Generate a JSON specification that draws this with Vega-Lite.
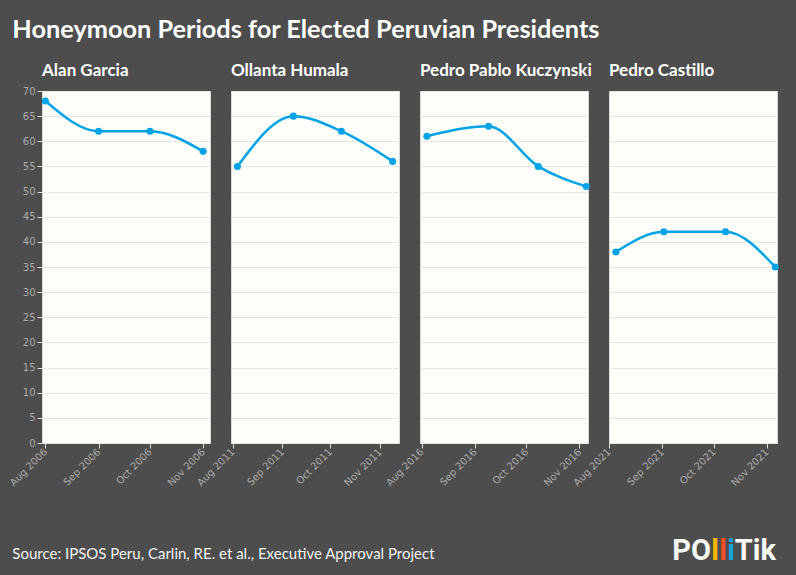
{
  "$schema": "https://vega.github.io/schema/vega-lite/v6.json",
  "background": "#4d4d4d",
  "padding": {"left": 7, "right": 19, "top": 17, "bottom": 11},
  "title": {
    "text": "Source: IPSOS Peru, Carlin, RE. et al., Executive Approval Project",
    "orient": "bottom",
    "anchor": "start",
    "baseline": "middle",
    "color": "#f2f2f2",
    "font": "Lato",
    "fontSize": 15,
    "fontWeight": "normal",
    "offset": -15,
    "dx": 5
  },
  "spacing": 48,
  "vconcat": [
    {
      "title": {
        "text": "Honeymoon Periods for Elected Peruvian Presidents",
        "anchor": "start",
        "color": "#ffffff",
        "font": "Lato",
        "fontSize": 25.3,
        "fontWeight": "bold",
        "offset": 19,
        "dx": 5
      },
      "data": {
        "values": [
          {"president": "Alan Garcia", "date": "2006-08-01", "approval": 68},
          {"president": "Alan Garcia", "date": "2006-09-01", "approval": 62},
          {"president": "Alan Garcia", "date": "2006-10-01", "approval": 62},
          {"president": "Alan Garcia", "date": "2006-11-01", "approval": 58},
          {"president": "Ollanta Humala", "date": "2011-08-04", "approval": 55},
          {"president": "Ollanta Humala", "date": "2011-09-08", "approval": 65},
          {"president": "Ollanta Humala", "date": "2011-10-08", "approval": 62},
          {"president": "Ollanta Humala", "date": "2011-11-09", "approval": 56},
          {"president": "Pedro Pablo Kuczynski", "date": "2016-08-04", "approval": 61},
          {"president": "Pedro Pablo Kuczynski", "date": "2016-09-09", "approval": 63},
          {"president": "Pedro Pablo Kuczynski", "date": "2016-10-08", "approval": 55},
          {"president": "Pedro Pablo Kuczynski", "date": "2016-11-05", "approval": 51},
          {"president": "Pedro Castillo", "date": "2021-08-05", "approval": 38},
          {"president": "Pedro Castillo", "date": "2021-09-02", "approval": 42},
          {"president": "Pedro Castillo", "date": "2021-10-08", "approval": 42},
          {"president": "Pedro Castillo", "date": "2021-11-06", "approval": 35}
        ]
      },
      "facet": {
        "column": {
          "field": "president",
          "type": "nominal",
          "sort": ["Alan Garcia", "Ollanta Humala", "Pedro Pablo Kuczynski", "Pedro Castillo"],
          "title": null,
          "header": {
            "labelOrient": "top",
            "labelAnchor": "start",
            "labelAlign": "left",
            "labelColor": "#ffffff",
            "labelFont": "Lato",
            "labelFontSize": 17,
            "labelFontWeight": "bold",
            "labelPadding": 11
          }
        }
      },
      "spacing": 21,
      "bounds": "flush",
      "resolve": {"scale": {"x": "independent"}},
      "spec": {
        "width": 168,
        "height": 352,
        "view": {"stroke": "#d9d9d9", "fill": "#fdfefa"},
        "encoding": {
          "x": {
            "field": "date",
            "type": "temporal",
            "title": null,
            "scale": {"type": "utc", "nice": "week"},
            "axis": {
              "format": "%b %Y",
              "labelAngle": -45,
              "labelAlign": "right",
              "labelBaseline": "middle",
              "tickCount": "month",
              "grid": false,
              "domain": false
            }
          },
          "y": {
            "field": "approval",
            "type": "quantitative",
            "title": null,
            "scale": {"domain": [0, 70], "nice": false},
            "axis": {
              "values": [0, 5, 10, 15, 20, 25, 30, 35, 40, 45, 50, 55, 60, 65, 70],
              "grid": true,
              "domain": false
            }
          }
        },
        "layer": [
          {
            "mark": {"type": "line", "interpolate": "monotone", "color": "#00a3e6", "strokeWidth": 2.5}
          },
          {
            "mark": {"type": "point", "filled": true, "color": "#00a3e6", "size": 50, "opacity": 1}
          }
        ]
      }
    },
    {
      "width": 734,
      "height": 30,
      "view": {"stroke": null, "fill": null},
      "data": {"values": [{"logo": "POlliTik"}]},
      "encoding": {
        "x": {"datum": 1, "type": "quantitative", "scale": {"domain": [0, 1]}, "axis": null}
      },
      "layer": [
        {
          "mark": {"type": "text", "align": "right", "baseline": "middle", "dy": -3, "dx": -65, "color": "#f7f7f2", "font": "Roboto", "fontWeight": "bold", "fontSize": 29},
          "encoding": {"text": {"datum": "PO"}}
        },
        {
          "mark": {"type": "text", "align": "right", "baseline": "middle", "dy": -3, "dx": -57, "color": "#f5b400", "font": "Roboto", "fontWeight": "bold", "fontSize": 29},
          "encoding": {"text": {"datum": "l"}}
        },
        {
          "mark": {"type": "text", "align": "right", "baseline": "middle", "dy": -3, "dx": -49, "color": "#f04e23", "font": "Roboto", "fontWeight": "bold", "fontSize": 29},
          "encoding": {"text": {"datum": "l"}}
        },
        {
          "mark": {"type": "text", "align": "right", "baseline": "middle", "dy": -3, "dx": -41, "color": "#1aa3e0", "font": "Roboto", "fontWeight": "bold", "fontSize": 29},
          "encoding": {"text": {"datum": "i"}}
        },
        {
          "mark": {"type": "text", "align": "right", "baseline": "middle", "dy": -3, "color": "#f7f7f2", "font": "Roboto", "fontWeight": "bold", "fontSize": 29},
          "encoding": {"text": {"datum": "Tik"}}
        }
      ]
    }
  ],
  "config": {
    "font": "Lato",
    "axis": {
      "labelColor": "#aaaaaa",
      "labelFont": "DejaVu Sans",
      "labelFontSize": 10,
      "tickColor": "#dddddd",
      "gridColor": "#e8e8e8"
    }
  }
}
